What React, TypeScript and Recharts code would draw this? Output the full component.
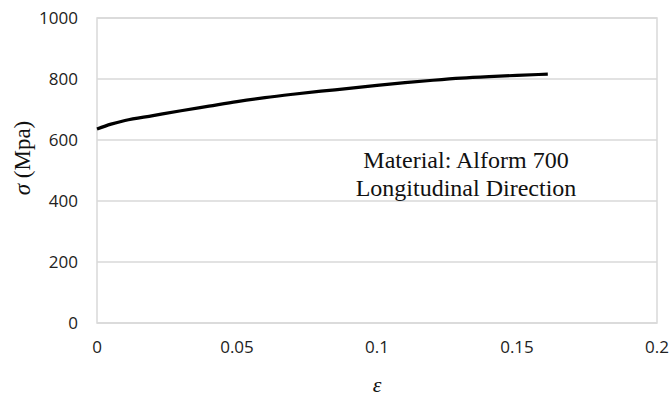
import React from 'react';
import { LineChart, Line, XAxis, YAxis, CartesianGrid, ReferenceArea } from 'recharts';

const strain = [0, 0.005, 0.01, 0.02, 0.03, 0.04, 0.05, 0.06, 0.07, 0.08, 0.09, 0.10, 0.11, 0.12, 0.13, 0.14, 0.15, 0.161];
const stress = [636, 652, 664, 680, 696, 711, 726, 739, 750, 760, 769, 779, 788, 796, 803, 808, 812, 816];
const xTicks = [0, 0.05, 0.1, 0.15, 0.2];
const yTicks = [0, 200, 400, 600, 800, 1000];
const noteLines = ['Material: Alform 700', 'Longitudinal Direction'];

const data = strain.map((e, i) => ({ e, s: stress[i] }));

const tickFont = { fontFamily: 'Open Sans', fontSize: 17, fill: '#222' };

const YLabel = (props: any) => {
  const vb = props.viewBox || {};
  const cx = vb.x + 30;
  const cy = 158;
  return (
    <text
      x={cx}
      y={cy}
      transform={`rotate(-90 ${cx} ${cy})`}
      textAnchor="middle"
      fontFamily="Liberation Serif"
      fontSize={23}
      fill="#111"
    >
      <tspan fontStyle="italic">σ</tspan>
      <tspan> (Mpa)</tspan>
    </text>
  );
};

const XLabel = (props: any) => {
  const vb = props.viewBox || {};
  return (
    <text
      x={vb.x + vb.width / 2}
      y={vb.y + 69}
      textAnchor="middle"
      fontFamily="Liberation Serif"
      fontStyle="italic"
      fontSize={22}
      fill="#111"
    >
      ε
    </text>
  );
};

export default function App() {
  return (
    <div style={{ position: 'absolute', left: 0, top: 0, width: 670, height: 396, background: '#fff' }}>
      <LineChart width={670} height={396} data={data} margin={{ top: 18, right: 13, left: 0, bottom: 0 }}>
        <CartesianGrid vertical={false} stroke="#d9d9d9" strokeWidth={1.5} />
        <ReferenceArea x1={0} x2={0.2} y1={0} y2={1000} fill="none" stroke="#d9d9d9" strokeWidth={1.5} ifOverflow="visible" />
        <XAxis
          dataKey="e"
          type="number"
          domain={[0, 0.2]}
          ticks={xTicks}
          axisLine={false}
          tickLine={false}
          tickSize={0}
          tickMargin={18}
          height={73}
          tick={tickFont}
          interval={0}
          label={<XLabel />}
        />
        <YAxis
          type="number"
          domain={[0, 1000]}
          ticks={yTicks}
          axisLine={false}
          tickLine={false}
          tickSize={0}
          tickMargin={19}
          width={97}
          tick={tickFont}
          interval={0}
          label={<YLabel />}
        />
        <Line
          dataKey="s"
          type="monotone"
          stroke="#000"
          strokeWidth={3.2}
          dot={false}
          isAnimationActive={false}
        />
      </LineChart>
      <svg width={670} height={396} style={{ position: 'absolute', left: 0, top: 0, pointerEvents: 'none' }}>
        {noteLines.map((t, i) => (
          <text key={t} x={466} y={168 + i * 28} textAnchor="middle" fontFamily="Liberation Serif" fontSize={24} fill="#111">
            {t}
          </text>
        ))}
      </svg>
    </div>
  );
}
